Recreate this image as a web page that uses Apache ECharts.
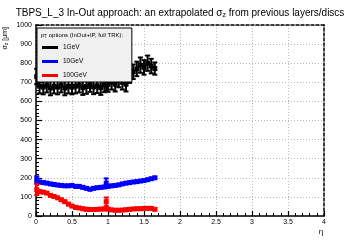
<!doctype html>
<html><head><meta charset="utf-8" />
<style>
  html,body,#app{margin:0;padding:0;width:360px;height:240px;background:#ffffff}
</style>
<script src="https://cdn.jsdelivr.net/npm/echarts@6/dist/echarts.min.js"></script>
</head><body><div id="app"></div>
<script>
// eta bin centres (extra entries near 0 and 0.975 for the outlying bins)
const eta = [0.01, 0.05, 0.10, 0.15, 0.20, 0.25, 0.30, 0.35, 0.40, 0.45, 0.50, 0.55, 0.60, 0.65, 0.70, 0.75, 0.80, 0.85, 0.90, 0.95,
  0.975, 1.00, 1.05, 1.10, 1.15, 1.20, 1.25, 1.30, 1.35, 1.40, 1.45, 1.50, 1.55, 1.60, 1.65];
const sig1GeV = [730, 680, 675, 685, 670, 680, 675, 685, 670, 680, 675, 680, 685, 672, 678, 688, 676, 682, 672, 686,
  690, 688, 700, 690, 712, 700, 690, 735, 755, 770, 790, 778, 800, 785, 772];
const err1GeV = [40, 38, 38, 38, 38, 38, 38, 38, 38, 38, 38, 38, 38, 38, 38, 38, 38, 38, 38, 38,
  38, 38, 38, 38, 38, 38, 38, 38, 38, 38, 40, 38, 40, 38, 32];
const sig10GeV = [190, 178, 175, 172, 168, 165, 162, 160, 158, 158, 160, 155, 155, 150, 145, 140, 145, 148, 150, 152,
  172, 155, 158, 160, 163, 168, 172, 175, 178, 180, 183, 186, 190, 195, 200];
const err10GeV = [18, 6, 5, 5, 5, 5, 5, 5, 5, 5, 5, 5, 5, 5, 5, 5, 5, 5, 5, 5,
  25, 5, 5, 5, 5, 5, 5, 5, 5, 5, 5, 5, 5, 5, 5];
const sig100GeV = [138, 128, 125, 120, 108, 102, 95, 85, 75, 62, 52, 45, 42, 38, 35, 34, 34, 35, 36, 37,
  75, 36, 32, 30, 30, 31, 33, 35, 37, 38, 38, 40, 40, 40, 35];
const err100GeV = [28, 6, 5, 5, 5, 5, 5, 5, 5, 5, 5, 5, 5, 5, 5, 5, 5, 5, 5, 5,
  22, 5, 5, 5, 5, 5, 5, 5, 5, 5, 5, 5, 5, 5, 5];
const seriesNames = ['1GeV', '10GeV', '100GeV'];
const seriesColors = ['#000000', '#0000ff', '#ff0000'];

const FONT = "'Liberation Sans', Arial, sans-serif";

function pack(vals, errs) { return eta.map((x, i) => [x, vals[i], errs[i]]); }

function errRender(color) {
  return function (params, api) {
    const x = api.value(0), y = api.value(1), e = api.value(2);
    const c = api.coord([x, y]);
    const hi = api.coord([x, y + e])[1];
    const lo = api.coord([x, y - e])[1];
    const st = { stroke: color, lineWidth: 2 };
    return {
      type: 'group', children: [
        { type: 'line', shape: { x1: c[0], y1: hi, x2: c[0], y2: lo }, style: st },
        { type: 'line', shape: { x1: c[0] - 2.5, y1: hi, x2: c[0] + 2.5, y2: hi }, style: st },
        { type: 'line', shape: { x1: c[0] - 2.5, y1: lo, x2: c[0] + 2.5, y2: lo }, style: st },
        { type: 'rect', shape: { x: c[0] - 2.5, y: c[1] - 2.5, width: 5, height: 5 }, style: { fill: color } }
      ]
    };
  };
}

const allData = [pack(sig1GeV, err1GeV), pack(sig10GeV, err10GeV), pack(sig100GeV, err100GeV)];

const chart = echarts.init(document.getElementById('app'), null, { renderer: 'canvas' });
const axisBase = { min: 0, max: 4, interval: 0.5 };
chart.setOption({
  animation: false,
  backgroundColor: '#ffffff',
  textStyle: { fontFamily: FONT },
  title: {
    text: 'TBPS_L_3 In-Out approach: an extrapolated σ{s|z} from previous layers/discs',
    left: 'center', top: 2,
    textStyle: { fontFamily: FONT, fontSize: 10, fontWeight: 'normal', color: '#000',
      rich: { s: { fontFamily: FONT, fontSize: 7, padding: [5, 0, 0, 0], color: '#000' } } }
  },
  grid: { left: 36, right: 36, top: 25, bottom: 24 },
  legend: {
    orient: 'vertical', left: 37, top: 28,
    padding: [16, 45, 3, 5], itemGap: 7, itemWidth: 16, itemHeight: 3,
    backgroundColor: '#f0f0f0', borderColor: '#000', borderWidth: 1,
    textStyle: { fontFamily: FONT, fontSize: 6.5, color: '#000' },
    data: seriesNames.map((n, i) => ({ name: n, icon: 'rect', itemStyle: { color: seriesColors[i] } }))
  },
  xAxis: [
    Object.assign({ type: 'value', position: 'bottom',
      axisLine: { onZero: false, lineStyle: { color: '#000', width: 1.5 } },
      axisTick: { inside: true, length: 5, lineStyle: { color: '#000', width: 1.2 } },
      minorTick: { show: true, splitNumber: 5, length: 3, lineStyle: { color: '#000', width: 1 } },
      axisLabel: { fontFamily: FONT, fontSize: 7, color: '#000', margin: 3 },
      splitLine: { show: true, lineStyle: { color: '#bbbbbb', width: 1, type: [1, 2] } } }, axisBase),
    Object.assign({ type: 'value', position: 'top',
      axisLine: { onZero: false, lineStyle: { color: '#000', width: 1.5, type: [3, 2] } },
      axisTick: { show: false }, axisLabel: { show: false }, splitLine: { show: false } }, axisBase)
  ],
  yAxis: [
    { type: 'value', min: 0, max: 1000, interval: 100, position: 'left',
      axisLine: { onZero: false, lineStyle: { color: '#000', width: 1.5 } },
      axisTick: { inside: true, length: 6, lineStyle: { color: '#000', width: 1.2 } },
      minorTick: { show: true, splitNumber: 5, length: 3, lineStyle: { color: '#000', width: 1 } },
      axisLabel: { fontFamily: FONT, fontSize: 7, color: '#000', margin: 4, formatter: v => String(v) },
      splitLine: { show: true, lineStyle: { color: '#bbbbbb', width: 1, type: [1, 2] } } },
    { type: 'value', min: 0, max: 1000, interval: 100, position: 'right',
      axisLine: { onZero: false, lineStyle: { color: '#000', width: 1.5, type: [3, 2] } },
      axisTick: { show: false }, axisLabel: { show: false }, splitLine: { show: false } }
  ],
  graphic: [
    { type: 'text', x: 321, y: 228, z: 100,
      style: { text: 'η', font: '8px ' + FONT, fill: '#000', textAlign: 'center', textVerticalAlign: 'top' } },
    { type: 'text', x: 5, y: 27, rotation: Math.PI / 2, z: 100,
      style: { text: 'σ{s|z} [μm]', font: '7px ' + FONT, fill: '#000', textAlign: 'right', textVerticalAlign: 'middle',
        rich: { s: { fontSize: 5, fontFamily: FONT, padding: [4, 0, 0, 0] } } } },
    { type: 'text', x: 41, y: 31, z: 100,
      style: { text: 'p{s|T} options (InOut+IP, full TRK):', font: '6px ' + FONT, fill: '#000', textVerticalAlign: 'top',
        rich: { s: { fontSize: 4.5, fontFamily: FONT, padding: [3, 0, 0, 0] } } } }
  ],
  series: seriesNames.map((n, i) => ({
    name: n, type: 'custom', xAxisIndex: 0, yAxisIndex: 0, z: 2,
    itemStyle: { color: seriesColors[i] },
    renderItem: errRender(seriesColors[i]),
    encode: { x: 0, y: 1 },
    data: allData[i]
  }))
});
</script></body></html>
